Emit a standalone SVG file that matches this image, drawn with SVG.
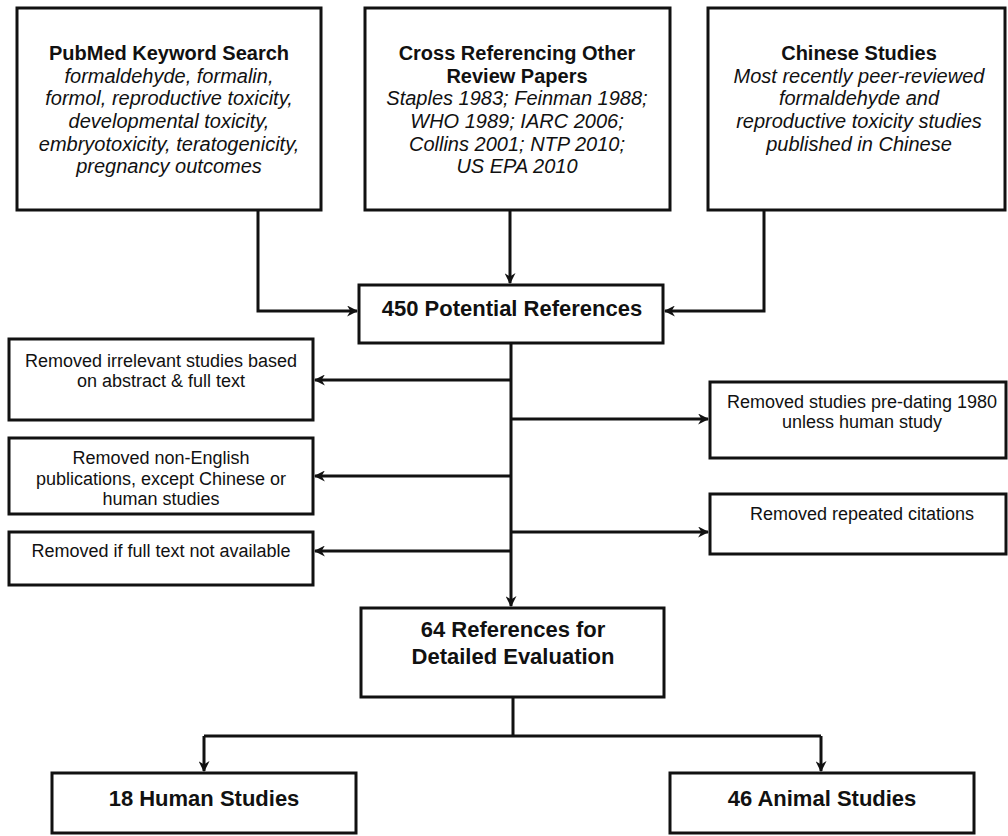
<svg xmlns="http://www.w3.org/2000/svg" width="1008" height="836" viewBox="0 0 1008 836">
<style>
.box{fill:#fff;stroke:#111;stroke-width:3}
.c{fill:none;stroke:#111;stroke-width:3}
text{font-family:"Liberation Sans",Arial,sans-serif;fill:#111;text-anchor:middle}
.t{font-weight:bold;font-size:20px}
.i{font-style:italic;font-size:20px}
.r{font-size:18px}
.b{font-weight:bold;font-size:22px}
</style>
<defs>
<marker id="ah" viewBox="0 0 10 10" refX="9" refY="5" markerWidth="11" markerHeight="11" markerUnits="userSpaceOnUse" orient="auto">
<path d="M0,0 L10,5 L0,10 L3,5 z" fill="#111"/>
</marker>
</defs>
<g id="connectors">
<path class="c" d="M258,210 V311 H357" marker-end="url(#ah)"/>
<path class="c" d="M510,210 V283" marker-end="url(#ah)"/>
<path class="c" d="M764,210 V311 H665" marker-end="url(#ah)"/>
<path class="c" d="M511,343 V606" marker-end="url(#ah)"/>
<path class="c" d="M511,380 H315" marker-end="url(#ah)"/>
<path class="c" d="M511,476 H315" marker-end="url(#ah)"/>
<path class="c" d="M511,551 H315" marker-end="url(#ah)"/>
<path class="c" d="M511,419 H708" marker-end="url(#ah)"/>
<path class="c" d="M511,532 H708" marker-end="url(#ah)"/>
<path class="c" d="M513,697 V736 M204,736 H821"/>
<path class="c" d="M204,736 V771" marker-end="url(#ah)"/>
<path class="c" d="M821,736 V771" marker-end="url(#ah)"/>
</g>
<g id="pubmed">
<rect class="box" x="17" y="8" width="304" height="202"/>
<text class="t" x="169" y="60">PubMed Keyword Search</text>
<text class="i" x="169" y="83">formaldehyde, formalin,</text>
<text class="i" x="169" y="105">formol, reproductive toxicity,</text>
<text class="i" x="169" y="128">developmental toxicity,</text>
<text class="i" x="169" y="151">embryotoxicity, teratogenicity,</text>
<text class="i" x="169" y="173">pregnancy outcomes</text>
</g>
<g id="crossref">
<rect class="box" x="365" y="8" width="305" height="202"/>
<text class="t" x="517" y="60">Cross Referencing Other</text>
<text class="t" x="517" y="83">Review Papers</text>
<text class="i" x="517" y="105">Staples 1983; Feinman 1988;</text>
<text class="i" x="517" y="128">WHO 1989; IARC 2006;</text>
<text class="i" x="517" y="151">Collins 2001; NTP 2010;</text>
<text class="i" x="517" y="173">US EPA 2010</text>
</g>
<g id="chinese">
<rect class="box" x="708" y="8" width="297" height="202"/>
<text class="t" x="859" y="60">Chinese Studies</text>
<text class="i" x="859" y="83">Most recently peer-reviewed</text>
<text class="i" x="859" y="105">formaldehyde and</text>
<text class="i" x="859" y="128">reproductive toxicity studies</text>
<text class="i" x="859" y="151">published in Chinese</text>
</g>
<g id="potential">
<rect class="box" x="359" y="285" width="304" height="58"/>
<text class="b" x="512" y="316">450 Potential References</text>
</g>
<g id="irrelevant">
<rect class="box" x="9" y="339" width="304" height="81"/>
<text class="r" x="161" y="367">Removed irrelevant studies based</text>
<text class="r" x="161" y="387">on abstract &amp; full text</text>
</g>
<g id="nonenglish">
<rect class="box" x="9" y="438" width="304" height="76"/>
<text class="r" x="161" y="464">Removed non-English</text>
<text class="r" x="161" y="485">publications, except Chinese or</text>
<text class="r" x="161" y="505">human studies</text>
</g>
<g id="fulltext">
<rect class="box" x="9" y="532" width="304" height="53"/>
<text class="r" x="161" y="557">Removed if full text not available</text>
</g>
<g id="predating">
<rect class="box" x="710" y="382" width="296" height="76"/>
<text class="r" x="862" y="408">Removed studies pre-dating 1980</text>
<text class="r" x="862" y="428">unless human study</text>
</g>
<g id="repeated">
<rect class="box" x="710" y="494" width="296" height="60"/>
<text class="r" x="862" y="520">Removed repeated citations</text>
</g>
<g id="detailed">
<rect class="box" x="361" y="608" width="303" height="89"/>
<text class="b" x="513" y="637">64 References for</text>
<text class="b" x="513" y="664">Detailed Evaluation</text>
</g>
<g id="human">
<rect class="box" x="52" y="773" width="304" height="60"/>
<text class="b" x="204" y="806">18 Human Studies</text>
</g>
<g id="animal">
<rect class="box" x="670" y="773" width="304" height="60"/>
<text class="b" x="822" y="806">46 Animal Studies</text>
</g>
</svg>
